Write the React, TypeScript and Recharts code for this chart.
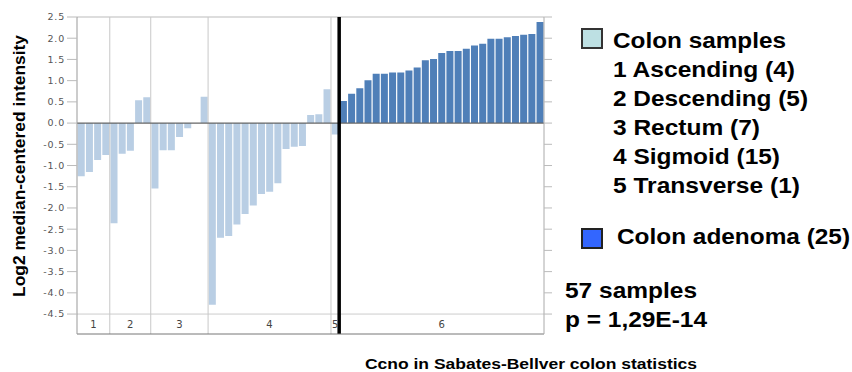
import React from "react";
import {
  BarChart,
  Bar,
  Cell,
  XAxis,
  YAxis,
  ReferenceLine,
  ReferenceArea,
} from "recharts";

// sample groups: 1-5 are colon tissue sites, 6 is adenoma
const groupLabels = ["1", "2", "3", "4", "5", "6"];
const groupCounts = [4, 5, 7, 15, 1, 25];

const normalValues = [
  -1.25, -1.15, -0.87, -0.75,
  -2.36, -0.72, -0.65, 0.54, 0.61,
  -1.54, -0.64, -0.64, -0.33, -0.12, 0.0, 0.62,
  -4.28, -2.7, -2.66, -2.39, -2.14, -1.94, -1.67, -1.62, -1.42, -0.61, -0.56, -0.54, 0.19, 0.21, 0.8,
  -0.27,
];
const adenomaValues = [
  0.52, 0.69, 0.82, 1.01, 1.16, 1.16, 1.19, 1.19, 1.24, 1.31, 1.48, 1.51, 1.65,
  1.7, 1.7, 1.75, 1.83, 1.87, 1.99, 1.99, 2.02, 2.05, 2.08, 2.1, 2.38,
];

const yTicks = [-4.5, -4.0, -3.5, -3.0, -2.5, -2.0, -1.5, -1.0, -0.5, 0, 0.5, 1.0, 1.5, 2.0, 2.5];

const legendItems = [
  "1 Ascending (4)",
  "2 Descending (5)",
  "3 Rectum (7)",
  "4 Sigmoid (15)",
  "5 Transverse (1)",
];

const LIGHT = "#b9cee4";
const DARK = "#4f7fb8";

const allValues = [...normalValues, ...adenomaValues];
const data = allValues.map((value, i) => {
  let g = 0;
  let acc = 0;
  while (i >= acc + groupCounts[g]) {
    acc += groupCounts[g];
    g++;
  }
  return { id: `s${i + 1}`, value, group: g };
});

// first / last sample id of each group
const groups = groupLabels.map((label, g) => {
  const start = groupCounts.slice(0, g).reduce((a, b) => a + b, 0);
  return {
    label,
    first: `s${start + 1}`,
    last: `s${start + groupCounts[g]}`,
  };
});

const bold = { fontFamily: "'Liberation Sans', Arial, sans-serif", fontWeight: 700 };

export default function App() {
  return (
    <div style={{ position: "absolute", left: 0, top: 0, width: 852, height: 372, background: "#fff" }}>
      <BarChart
        width={852}
        height={372}
        data={data}
        margin={{ top: 17, right: 300, bottom: 37, left: 0 }}
        barCategoryGap="9%"
      >
        <XAxis dataKey="id" tick={false} tickLine={false} height={1} axisLine={{ stroke: "#777" }} />
        <YAxis
          yAxisId="l"
          domain={[-4.97, 2.5]}
          ticks={yTicks}
          width={77}
          tickSize={10}
          tickFormatter={(v: number) => v.toFixed(1)}
          tick={{ fill: "#555", fontSize: 9.5, fontFamily: "'DejaVu Sans', sans-serif", letterSpacing: 0.8 }}
          axisLine={{ stroke: "#999" }}
          tickLine={{ stroke: "#bbb" }}
          allowDataOverflow
        />
        <YAxis
          yAxisId="r"
          orientation="right"
          domain={[-4.97, 2.5]}
          ticks={yTicks}
          width={8}
          tickSize={8}
          tickFormatter={() => ""}
          axisLine={{ stroke: "#aaa" }}
          tickLine={{ stroke: "#bbb" }}
          allowDataOverflow
        />
        <ReferenceLine yAxisId="l" y={2.5} stroke="#bbb" />
        <ReferenceLine yAxisId="l" y={-4.5} stroke="#ccc" />
        {groups.map((g) => (
          <ReferenceArea
            key={"a" + g.label}
            yAxisId="l"
            x1={g.first}
            x2={g.last}
            y1={-4.97}
            y2={-4.5}
            ifOverflow="visible"
            fill="none"
            stroke="none"
            label={{ value: g.label, position: "center", fill: "#444", fontSize: 10, fontFamily: "'DejaVu Sans', sans-serif" }}
          />
        ))}
        {groups.slice(1).map((g) => (
          <ReferenceLine key={"d" + g.label} yAxisId="l" x={g.first} position="start" stroke="#c8c8c8" />
        ))}
        <Bar yAxisId="l" dataKey="value" isAnimationActive={false}>
          {data.map((d) => (
            <Cell key={d.id} fill={d.group === 5 ? DARK : LIGHT} />
          ))}
        </Bar>
        <ReferenceLine yAxisId="l" y={0} stroke="#666" strokeWidth={1.2} />
        <ReferenceLine yAxisId="l" x={groups[5].first} position="start" stroke="#000" strokeWidth={3.5} />
      </BarChart>

      <svg
        width={852}
        height={372}
        style={{ position: "absolute", left: 0, top: 0, pointerEvents: "none" }}
      >
        <text
          transform="translate(25,166) rotate(-90)"
          textAnchor="middle"
          fontSize={16}
          textLength={262}
          lengthAdjust="spacingAndGlyphs"
          style={bold}
        >
          Log2 median-centered intensity
        </text>

        <rect x={582} y={29} width={20} height={19} fill="#bde0e3" stroke="#333" strokeWidth={2} />
        <text x={613} y={48} fontSize={22} textLength={173} lengthAdjust="spacingAndGlyphs" style={bold}>
          Colon samples
        </text>
        {legendItems.map((t, i) => (
          <text
            key={t}
            x={613}
            y={77.3 + i * 29}
            fontSize={22}
            textLength={[182, 195, 147, 167, 187][i]}
            lengthAdjust="spacingAndGlyphs"
            style={bold}
          >
            {t}
          </text>
        ))}

        <rect x={582} y={229} width={20} height={19} fill="#3366ff" stroke="#222" strokeWidth={2} />
        <text x={617} y={244} fontSize={22} textLength={233} lengthAdjust="spacingAndGlyphs" style={bold}>
          Colon adenoma (25)
        </text>

        <text x={565} y={298.3} fontSize={22} textLength={132} lengthAdjust="spacingAndGlyphs" style={bold}>
          57 samples
        </text>
        <text x={565} y={326.7} fontSize={22} textLength={142} lengthAdjust="spacingAndGlyphs" style={bold}>
          p = 1,29E-14
        </text>

        <text x={365} y={369.3} fontSize={14} textLength={332} lengthAdjust="spacingAndGlyphs" style={bold}>
          Ccno in Sabates-Bellver colon statistics
        </text>
      </svg>
    </div>
  );
}
